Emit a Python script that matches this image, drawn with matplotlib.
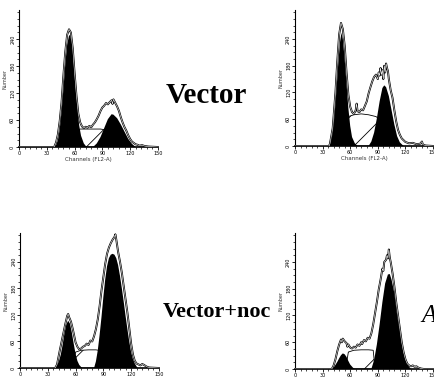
import matplotlib
matplotlib.use("Agg")
import matplotlib.pyplot as plt
from matplotlib.ticker import MultipleLocator

plt.rcParams['hatch.linewidth'] = 0.6

# panel 1: Vector
v_raw_x = [0, 38, 40, 42, 44, 46, 48, 50, 52, 54, 56, 58, 60, 62, 64, 66, 68, 70, 72, 74, 76,
           78, 80, 82, 84, 86, 88, 90, 92, 94, 96, 98, 100, 101, 102, 104, 106, 108, 110,
           112, 114, 116, 118, 120, 122, 124, 126, 128, 130, 133, 136, 140, 150]
v_raw_y = [0, 0, 10, 28, 58, 100, 160, 212, 250, 262, 255, 220, 165, 115, 75, 55, 46, 42, 45, 43, 47,
           44, 50, 55, 62, 70, 80, 88, 92, 98, 95, 100, 104, 96, 106, 98, 90, 80, 66,
           54, 44, 36, 26, 18, 12, 9, 6, 5, 3, 4, 2, 1, 0]
v_g1_x = [38, 40, 42, 44, 46, 48, 50, 52, 54, 55, 57, 59, 61, 63, 65, 67, 70, 73]
v_g1_y = [0, 4, 15, 40, 80, 130, 185, 228, 248, 249, 233, 190, 135, 85, 48, 25, 8, 0]
v_g2_x = [80, 84, 88, 92, 96, 100, 102, 106, 110, 114, 118, 122, 126]
v_g2_y = [0, 8, 22, 42, 62, 73, 72, 64, 50, 34, 18, 7, 0]
v_s_x = [60, 62, 66, 72, 80, 88, 94, 96]
v_s_y = [0, 36, 40, 40, 40, 40, 38, 0]

# panel 2
b_raw_x = [0, 37, 38, 41, 44, 46, 48, 50, 52, 54, 56, 58, 60, 62, 64, 66, 67, 68, 70, 72,
           74, 76, 78, 80, 82, 84, 86, 88, 90, 91, 92, 93, 94, 95, 96, 97, 98, 99, 100, 101,
           102, 104, 106, 108, 110, 112, 114, 116, 118, 120, 124, 128, 132, 136, 138, 139, 142, 150]
b_raw_y = [0, 0, 5, 40, 120, 190, 250, 276, 262, 225, 165, 115, 88, 76, 72, 80, 95, 78, 76, 82,
           80, 90, 100, 118, 132, 145, 155, 160, 150, 165, 158, 175, 160, 170, 150, 180, 165, 185, 175, 168,
           150, 125, 108, 80, 55, 36, 25, 17, 13, 9, 6, 7, 4, 5, 10, 3, 1, 0]
b_g1_x = [37, 39, 41, 43, 45, 47, 49, 50.5, 52, 54, 56, 58, 60, 62, 65, 68]
b_g1_y = [0, 10, 30, 70, 124, 184, 234, 254, 240, 195, 140, 85, 45, 20, 6, 0]
b_g2_x = [80, 83, 86, 89, 92, 95, 97, 99, 102, 105, 108, 111, 114, 118]
b_g2_y = [0, 10, 30, 62, 100, 130, 136, 132, 112, 80, 48, 22, 8, 0]
b_s_x = [56, 58, 64, 72, 80, 88, 92, 94]
b_s_y = [0, 66, 70, 72, 70, 66, 60, 0]

# panel 3: Vector+noc
n_raw_x = [0, 38, 40, 43, 46, 49, 51, 52, 53, 55, 57, 59, 60, 62, 64, 66, 68, 70, 72, 74,
           76, 78, 80, 82, 84, 86, 88, 90, 92, 94, 96, 98, 100, 102, 103, 104, 106, 108, 110, 112,
           114, 116, 118, 120, 122, 124, 126, 128, 130, 132, 134, 136, 138, 140, 150]
n_raw_y = [0, 0, 8, 40, 70, 100, 118, 122, 115, 105, 88, 68, 58, 48, 42, 44, 48, 50, 55, 52,
           62, 60, 72, 88, 110, 140, 175, 205, 235, 258, 272, 282, 290, 296, 302, 290, 262, 240, 215, 185,
           155, 125, 90, 55, 30, 16, 10, 8, 6, 9, 7, 4, 2, 1, 0]
n_g1_x = [38, 40, 42, 44, 46, 48, 50, 52, 54, 56, 58, 60, 62, 64, 67]
n_g1_y = [0, 6, 15, 30, 52, 78, 98, 107, 100, 80, 55, 32, 16, 7, 0]
n_g2_x = [80, 82, 84, 86, 88, 90, 92, 94, 96, 98, 100, 102, 104, 106, 108, 110, 112, 114,
          116, 118, 120, 122, 124, 127]
n_g2_y = [0, 15, 40, 75, 115, 160, 200, 230, 248, 256, 258, 256, 248, 232, 208, 180, 150, 118,
          88, 60, 36, 20, 10, 0]
n_s_x = [57, 60, 66, 74, 82, 85, 86]
n_s_y = [0, 36, 40, 41, 41, 40, 0]

# panel 4
m_raw_x = [0, 40, 42, 44, 46, 48, 50, 51, 52, 54, 56, 57, 58, 60, 62, 64, 66, 68, 70, 72,
           73, 75, 77, 79, 81, 83, 85, 87, 89, 91, 93, 95, 96, 97, 99, 100, 101, 102, 103, 104,
           106, 108, 110, 112, 114, 116, 118, 120, 122, 124, 126, 128, 130, 132, 134, 137, 140, 150]
m_raw_y = [0, 0, 8, 22, 40, 55, 66, 60, 68, 62, 58, 50, 55, 48, 46, 50, 48, 55, 52, 60,
           56, 65, 62, 70, 68, 80, 100, 125, 150, 178, 200, 225, 220, 240, 245, 255, 248, 268, 250, 240,
           215, 185, 150, 120, 90, 60, 38, 22, 12, 8, 6, 8, 5, 6, 3, 1, 0, 0]
m_g1_x = [40, 43, 46, 48, 50, 52, 54, 56, 58, 60, 63, 65]
m_g1_y = [0, 6, 16, 24, 31, 35, 33, 27, 18, 10, 3, 0]
m_g2_x = [83, 86, 89, 92, 95, 98, 101, 103, 105, 108, 111, 114, 117, 120, 123, 126]
m_g2_y = [0, 20, 55, 100, 150, 192, 212, 213, 200, 170, 122, 82, 46, 22, 8, 0]
m_s_x = [55, 58, 64, 72, 80, 85, 87]
m_s_y = [0, 38, 42, 43, 43, 42, 0]

x_ticks = [0, 30, 60, 90, 120, 150]
y_ticks = [0, 60, 120, 180, 240]

fig = plt.figure(figsize=(4.34, 3.79), dpi=100)
fig.patch.set_facecolor('white')


def panel(rect, raw_x, raw_y, g1_x, g1_y, g2_x, g2_y, s_x, s_y, xlabel=True):
    ax = fig.add_axes(rect)
    ax.fill(s_x, s_y, facecolor='white', edgecolor='black', hatch='/', linewidth=0.6, zorder=2)
    ax.fill(g1_x, g1_y, color='black', linewidth=0, zorder=3)
    ax.fill(g2_x, g2_y, color='black', linewidth=0, zorder=3)
    ax.plot(raw_x, raw_y, '-', color='black', linewidth=1.4, zorder=4)
    ax.plot(raw_x, raw_y, '-', color='white', linewidth=0.4, zorder=5)
    ax.set_xlim(0, 150)
    ax.set_ylim(0, 305)
    ax.spines['top'].set_visible(False)
    ax.spines['right'].set_visible(False)
    ax.spines['left'].set_linewidth(0.8)
    ax.spines['bottom'].set_linewidth(1.2)
    ax.set_xticks(x_ticks)
    ax.set_yticks(y_ticks)
    ax.xaxis.set_minor_locator(MultipleLocator(6))
    ax.yaxis.set_minor_locator(MultipleLocator(15))
    ax.tick_params(which='major', length=2, width=0.6, labelsize=3.5, pad=0.8, color='black')
    ax.tick_params(which='minor', length=1.3, width=0.5)
    for lab in ax.get_yticklabels():
        lab.set_rotation(90)
        lab.set_va('center')
    ax.set_ylabel('Number', fontsize=3.5, labelpad=2, color='#333333')
    if xlabel:
        ax.set_xlabel('Channels (FL2-A)', fontsize=4, labelpad=1, color='#333333')
    return ax


panel([0.0438, 0.6121, 0.320, 0.3615], v_raw_x, v_raw_y, v_g1_x, v_g1_y, v_g2_x, v_g2_y, v_s_x, v_s_y)
panel([0.6797, 0.6148, 0.318, 0.3588], b_raw_x, b_raw_y, b_g1_x, b_g1_y, b_g2_x, b_g2_y, b_s_x, b_s_y)
panel([0.0461, 0.0290, 0.320, 0.3562], n_raw_x, n_raw_y, n_g1_x, n_g1_y, n_g2_x, n_g2_y, n_s_x, n_s_y,
      xlabel=False)
panel([0.6797, 0.0264, 0.318, 0.3588], m_raw_x, m_raw_y, m_g1_x, m_g1_y, m_g2_x, m_g2_y, m_s_x, m_s_y,
      xlabel=False)

fig.text(0.3825, 0.728, 'Vector', fontsize=21, fontweight='bold', family='Liberation Serif',
         ha='left', va='baseline')
fig.text(0.3756, 0.163, 'Vector+noc', fontsize=16, fontweight='bold', family='Liberation Serif',
         ha='left', va='baseline')
fig.text(0.972, 0.150, 'A', fontsize=18, style='italic', family='Liberation Serif',
         ha='left', va='baseline')

fig.savefig('out.png', dpi=100)
